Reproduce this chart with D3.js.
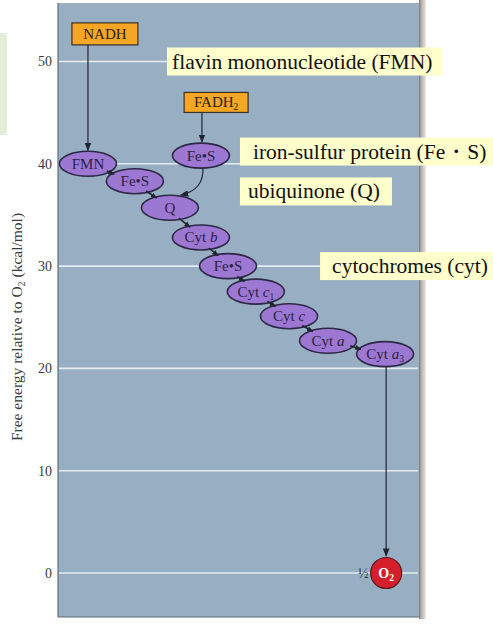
<!DOCTYPE html>
<html><head><meta charset="utf-8">
<script src="https://cdn.jsdelivr.net/npm/d3@7"></script>
<style>body{margin:0;background:#fff;}svg{display:block;}</style>
</head><body>
<script>
// ---- data ----
const carriers = ["FMN","Fe•S","Q","Cyt b","Fe•S","Cyt c1","Cyt c","Cyt a","Cyt a3"];
const carrierEnergy = [40, 38.3, 35.7, 32.8, 30.0, 27.5, 25.1, 22.7, 21.4];
const carrierStage = [8.3, 21.3, 31.0, 39.6, 47.1, 54.8, 64.0, 74.8, 90.6];
const donors = ["NADH","FADH2"];
const donorEnergy = [52.7, 46.0];
const donorStage = [13.0, 43.8];
const fadEntry = {name:"Fe•S", energy:40.8, stage:39.6};
const acceptor = {name:"O2", energy:0, stage:90.9};
const yTicks = [0,10,20,30,40,50];
const yTitle = "Free energy relative to O2 (kcal/mol)";
const notes = ["flavin mononucleotide (FMN)","iron-sulfur protein (Fe・S)","ubiquinone (Q)","cytochromes (cyt)"];
const noteEnergy = [50.0, 41.2, 37.3, 30.0];
const noteStage = [30.2, 50.4, 50.4, 72.6];
const noteWidthStage = [76.2, 70.1, 42.1, 47.9];

const W=493,H=624;
const plot={l:58,r:419,t:3,b:617};
const svg=d3.select("body").append("svg").attr("width",W).attr("height",H);
const y=d3.scaleLinear().domain([0,50]).range([573,61.5]);
const x=d3.scaleLinear().domain([0,100]).range([plot.l,plot.r]);
const SERIF="'Liberation Serif','Times New Roman',serif";

const defs=svg.append("defs");
defs.append("marker").attr("id","ah").attr("viewBox","0 0 10 10").attr("refX",9).attr("refY",5)
 .attr("markerWidth",7).attr("markerHeight",7).attr("orient","auto")
 .append("path").attr("d","M0,1 L10,5 L0,9 Z").attr("fill","#1e2430");
defs.append("marker").attr("id","ahs").attr("viewBox","0 0 10 10").attr("refX",9).attr("refY",5)
 .attr("markerWidth",4).attr("markerHeight",4).attr("orient","auto")
 .append("path").attr("d","M0,1 L10,5 L0,9 Z").attr("fill","#1e2430");
const gr=defs.append("linearGradient").attr("id","gut").attr("x1",0).attr("x2",1);
gr.append("stop").attr("offset",0).attr("stop-color","#6f7a83");
gr.append("stop").attr("offset",0.3).attr("stop-color","#b5aca6");
gr.append("stop").attr("offset",1).attr("stop-color","#ebe8e5");

// left green strip
svg.append("rect").attr("x",0).attr("y",33).attr("width",7).attr("height",102).attr("fill","#e3edd7");

// plot background
svg.append("rect").attr("x",plot.l).attr("y",plot.t).attr("width",plot.r-plot.l).attr("height",plot.b-plot.t)
 .attr("fill","#98afc3");
svg.append("rect").attr("x",plot.r).attr("y",0).attr("width",7).attr("height",plot.b+2).attr("fill","url(#gut)");
svg.append("line").attr("x1",plot.l).attr("x2",plot.l).attr("y1",plot.t).attr("y2",plot.b).attr("stroke","#5d6d7c").attr("stroke-width",1.2);
svg.append("line").attr("x1",plot.l).attr("x2",plot.r).attr("y1",plot.b).attr("y2",plot.b).attr("stroke","#5d6d7c").attr("stroke-width",1.2);

// grid
svg.append("g").selectAll("line").data(yTicks).join("line")
 .attr("x1",plot.l+1).attr("x2",plot.r-1).attr("y1",d=>y(d)).attr("y2",d=>y(d))
 .attr("stroke","#f2f6f9").attr("stroke-opacity",0.85).attr("stroke-width",1.6);

// axis
const ax=svg.append("g").attr("transform",`translate(${plot.l},0)`)
 .call(d3.axisLeft(y).tickValues(yTicks).tickSize(0).tickPadding(6));
ax.select(".domain").remove();
ax.selectAll("text").attr("font-family",SERIF).attr("font-size",14).attr("fill","#3a3a3a");

const tt=svg.append("text").attr("transform","translate(22,327) rotate(-90)").attr("text-anchor","middle")
 .attr("font-family",SERIF).attr("font-size",15.5).attr("fill","#3a3a3a");
tt.append("tspan").text("Free energy relative to O");
tt.append("tspan").attr("font-size",10).attr("dy",3).text("2");
tt.append("tspan").attr("dy",-3).text(" (kcal/mol)");

const RX=28.5,RY=12.5;
const cx=carrierStage.map(x), cy=carrierEnergy.map(y);
function edge(x0,y0,x1,y1){const dx=x1-x0,dy=y1-y0;const t=1/Math.sqrt((dx*dx)/(RX*RX)+(dy*dy)/(RY*RY));return [x0+dx*t,y0+dy*t];}

// donor arrows
svg.append("line").attr("x1",cx[0]).attr("x2",cx[0]).attr("y1",y(donorEnergy[0])+11).attr("y2",cy[0]-RY-1)
 .attr("stroke","#1e2430").attr("stroke-width",1.2).attr("marker-end","url(#ah)");
svg.append("line").attr("x1",x(fadEntry.stage)+1).attr("x2",x(fadEntry.stage)+1).attr("y1",y(donorEnergy[1])+10).attr("y2",y(fadEntry.energy)-RY-1)
 .attr("stroke","#1e2430").attr("stroke-width",1.2).attr("marker-end","url(#ah)");
{
 const sx=x(fadEntry.stage)+2, sy=y(fadEntry.energy)+RY;
 const [ex,ey]=edge(cx[2],cy[2],sx,sy);
 svg.append("path").attr("d",`M${sx},${sy} Q${sx+1},${ey-6} ${ex+1},${ey-1}`).attr("fill","none")
  .attr("stroke","#1e2430").attr("stroke-width",1.2).attr("marker-end","url(#ah)");
}
// to O2
svg.append("line").attr("x1",x(acceptor.stage)).attr("x2",x(acceptor.stage)).attr("y1",cy[8]+RY).attr("y2",y(acceptor.energy)-17)
 .attr("stroke","#1e2430").attr("stroke-width",1.2).attr("marker-end","url(#ah)");

// ellipses
const ell=svg.append("g").selectAll("g").data(carriers.concat([fadEntry.name])).join("g")
 .attr("transform",(d,i)=>i<carriers.length?`translate(${cx[i]},${cy[i]})`:`translate(${x(fadEntry.stage)},${y(fadEntry.energy)})`);
ell.append("ellipse").attr("rx",RX).attr("ry",RY).attr("fill","#9d78d2").attr("stroke","#2d2845").attr("stroke-width",1.6);
ell.each(function(d){
 const t=d3.select(this).append("text").attr("text-anchor","middle").attr("dy",5)
  .attr("font-family",SERIF).attr("font-size",15).attr("fill","#2a2242");
 const m=d.match(/^Cyt ([a-c])(\d?)$/);
 if(m){t.append("tspan").text("Cyt ");t.append("tspan").attr("font-style","italic").text(m[1]);
  if(m[2]){t.append("tspan").attr("font-size",9.5).attr("dy",3).text(m[2]);}}
 else t.text(d);
});

// chain connectors
for(let i=0;i<carriers.length-1;i++){
 const [ax0,ay0]=edge(cx[i],cy[i],cx[i+1],cy[i+1]);
 const [bx,by]=edge(cx[i+1],cy[i+1],cx[i],cy[i]);
 svg.append("line").attr("x1",ax0-3).attr("y1",ay0-1).attr("x2",bx+1).attr("y2",by+1)
  .attr("stroke","#1e2430").attr("stroke-width",1.6).attr("marker-end","url(#ahs)");
}

// O2
const og=svg.append("g").attr("transform",`translate(${x(acceptor.stage)},${y(acceptor.energy)})`);
og.append("circle").attr("r",15.5).attr("fill","#d51f2c").attr("stroke","#5a1a1e").attr("stroke-width",1.2);
const ot=og.append("text").attr("text-anchor","middle").attr("dy",4.5).attr("font-family",SERIF)
 .attr("font-weight","bold").attr("font-size",14).attr("fill","#fff");
ot.append("tspan").text("O");ot.append("tspan").attr("font-size",9.5).attr("dy",3).text("2");
svg.append("text").attr("x",x(acceptor.stage)-23).attr("y",y(acceptor.energy)+5).attr("text-anchor","middle")
 .attr("font-family",SERIF).attr("font-size",14).attr("fill","#2d3540").text("½");

// donors boxes
const dg=svg.append("g").selectAll("g").data(donors).join("g")
 .attr("transform",(d,i)=>`translate(${x(donorStage[i])},${y(donorEnergy[i])})`);
dg.append("rect").attr("x",(d,i)=>i==0?-33:-32).attr("y",(d,i)=>i==0?-11:-10).attr("width",(d,i)=>i==0?66:64).attr("height",(d,i)=>i==0?22:20)
 .attr("fill","#f4a624").attr("stroke","#3a3026").attr("stroke-width",1.2);
dg.each(function(d){
 const t=d3.select(this).append("text").attr("text-anchor","middle").attr("dy",5)
  .attr("font-family",SERIF).attr("font-size",15).attr("fill","#2b2216");
 if(d==="FADH2"){t.append("tspan").text("FADH");t.append("tspan").attr("font-size",9.5).attr("dy",3).text("2");}
 else t.text(d);
});

// annotation notes
const ng=svg.append("g").selectAll("g").data(notes).join("g")
 .attr("transform",(d,i)=>`translate(${x(noteStage[i])},${y(noteEnergy[i])})`);
ng.append("rect").attr("x",0).attr("y",-14).attr("width",(d,i)=>x(noteWidthStage[i])-plot.l).attr("height",28)
 .attr("fill","#ffffcc");
ng.append("text").attr("x",(d,i)=>[5,13,8,12][i]).attr("y",7).attr("font-family",SERIF)
 .attr("font-size",21.5).attr("fill","#111").text(d=>d);
</script>
</body></html>
